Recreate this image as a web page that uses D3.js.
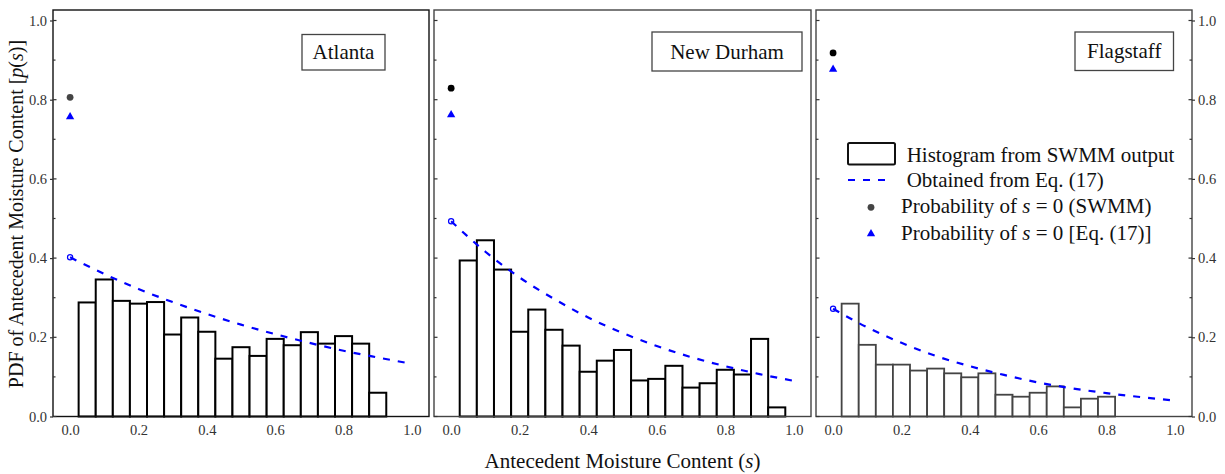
<!DOCTYPE html>
<html>
<head>
<meta charset="utf-8">
<script src="https://cdn.jsdelivr.net/npm/d3@7"></script>
<style>
  html, body { margin: 0; padding: 0; background: #fff; }
  svg { display: block; }
  svg text { font-family: "Liberation Serif", "Times New Roman", serif !important; }
</style>
</head>
<body>
<svg id="chart" width="1225" height="474"></svg>
<script>
// ---------------- data ----------------
const sites = ["Atlanta", "New Durham", "Flagstaff"];
const binCenters = [0.05, 0.10, 0.15, 0.20, 0.25, 0.30, 0.35, 0.40, 0.45, 0.50,
                    0.55, 0.60, 0.65, 0.70, 0.75, 0.80, 0.85, 0.90, 0.95];
const binWidth = 0.05;
const atlantaHist   = [0.288, 0.346, 0.292, 0.285, 0.289, 0.207, 0.250, 0.214, 0.146, 0.175,
                       0.153, 0.196, 0.180, 0.213, 0.184, 0.203, 0.184, 0.060];
const newDurhamHist = [0.394, 0.445, 0.371, 0.214, 0.270, 0.219, 0.179, 0.113, 0.141, 0.168,
                       0.091, 0.095, 0.128, 0.073, 0.084, 0.118, 0.106, 0.196, 0.023];
const flagstaffHist = [0.285, 0.181, 0.131, 0.131, 0.116, 0.121, 0.109, 0.099, 0.109, 0.055,
                       0.050, 0.060, 0.076, 0.023, 0.045, 0.050];
const curveS          = [0.0, 0.1, 0.2, 0.3, 0.4, 0.5, 0.6, 0.7, 0.8, 0.9, 1.0];
const atlantaCurve    = [0.402, 0.360, 0.322, 0.289, 0.259, 0.232, 0.208, 0.186, 0.166, 0.149, 0.133];
const newDurhamCurve  = [0.493, 0.416, 0.351, 0.297, 0.250, 0.211, 0.178, 0.150, 0.127, 0.107, 0.090];
const flagstaffCurve  = [0.272, 0.225, 0.186, 0.153, 0.127, 0.105, 0.086, 0.071, 0.059, 0.049, 0.040];
const probZeroSWMM = [0.806, 0.829, 0.918];
const probZeroEq   = [0.758, 0.763, 0.878];
const xTicks = [0.0, 0.2, 0.4, 0.6, 0.8, 1.0];
const yTicks = [0.0, 0.2, 0.4, 0.6, 0.8, 1.0];
const yMinorTicks = [0.1, 0.3, 0.5, 0.7, 0.9];
const legendLabels = [
  [["Histogram from SWMM output", false]],
  [["Obtained from Eq. (17)", false]],
  [["Probability of ", false], ["s", true], [" = 0 (SWMM)", false]],
  [["Probability of ", false], ["s", true], [" = 0 [Eq. (17)]", false]]
];
const xTitle = [["Antecedent Moisture Content (", false], ["s", true], [")", false]];
const yTitle = [["PDF of Antecedent Moisture Content [", false], ["p", true], ["(", false], ["s", true], [")]", false]];

const hists  = [atlantaHist, newDurhamHist, flagstaffHist];
const curves = [atlantaCurve, newDurhamCurve, flagstaffCurve];

// ---------------- layout ----------------
const FONT = "Liberation Serif, Times New Roman, serif";
const panelX = [[53, 429], [434, 811], [816, 1192]];
const yTop = 10, yBot = 416.5;
const barStroke = ["#000", "#000", "#444"];
const dotFill   = ["#444", "#000", "#000"];
const labelBoxes = [
  {x: 302, y: 34.5, w: 83, h: 35.5},
  {x: 652, y: 32, w: 150, h: 39},
  {x: 1075, y: 32, w: 98.5, h: 38.5}
];

const svg = d3.select("#chart").style("font-family", FONT);
const y = d3.scaleLinear().domain([0, 1.0265]).range([yBot, yTop]);

function addRich(sel, parts) {
  parts.forEach(([t, it]) => {
    const ts = sel.append("tspan").text(t);
    if (it) ts.attr("font-style", "italic");
  });
}

sites.forEach((site, i) => {
  const [x0, x1] = panelX[i];
  const x = d3.scaleLinear().domain([-0.05, 1.05]).range([x0, x1]);
  const g = svg.append("g");

  // histogram bars
  const hist = hists[i];
  g.append("g").selectAll("rect")
    .data(hist.map((v, k) => ({c: binCenters[k], v})))
    .join("rect")
    .attr("x", d => x(d.c - binWidth / 2))
    .attr("width", d => x(d.c + binWidth / 2) - x(d.c - binWidth / 2))
    .attr("y", d => y(d.v))
    .attr("height", d => y(0) - y(d.v))
    .attr("fill", "#fff")
    .attr("stroke", barStroke[i])
    .attr("stroke-width", i === 2 ? 1.8 : 2);

  // dashed curve
  const cv = curves[i];
  const line = d3.line().x(d => x(d[0])).y(d => y(d[1])).curve(d3.curveMonotoneX);
  g.append("path")
    .attr("d", line(curveS.map((s, k) => [s, cv[k]])))
    .attr("fill", "none")
    .attr("stroke", "#0000ff")
    .attr("stroke-width", 2.2)
    .attr("stroke-dasharray", "7,8");

  // open circle at curve start
  g.append("circle")
    .attr("cx", x(0)).attr("cy", y(cv[0])).attr("r", 2.6)
    .attr("fill", "none").attr("stroke", "#0000ff").attr("stroke-width", 1.2);

  // probability points
  g.append("circle")
    .attr("cx", x(0)).attr("cy", y(probZeroSWMM[i])).attr("r", 3.4)
    .attr("fill", dotFill[i]);
  g.append("path")
    .attr("d", d3.symbol().type(d3.symbolTriangle).size(30)())
    .attr("transform", `translate(${x(0)},${y(probZeroEq[i]) + 0.5})`)
    .attr("fill", "#0000ff");

  // frame
  g.append("rect")
    .attr("x", x0).attr("y", yTop).attr("width", x1 - x0).attr("height", yBot - yTop)
    .attr("fill", "none").attr("stroke", i === 0 ? "#111" : "#444").attr("stroke-width", 1.4);

  // inward ticks on left
  g.append("g").selectAll("line")
    .data(yTicks.concat(yMinorTicks))
    .join("line")
    .attr("x1", x0).attr("x2", d => x0 + (yTicks.includes(d) ? 3.5 : 2.5))
    .attr("y1", d => y(d)).attr("y2", d => y(d))
    .attr("stroke", "#333").attr("stroke-width", 1.2);
  if (i === 2) {
    g.append("g").selectAll("line")
      .data(yTicks.concat(yMinorTicks))
      .join("line")
      .attr("x1", x1).attr("x2", d => x1 - (yTicks.includes(d) ? 3.5 : 2.5))
      .attr("y1", d => y(d)).attr("y2", d => y(d))
      .attr("stroke", "#333").attr("stroke-width", 1.2);
  }

  // x axis labels
  const xa = g.append("g").attr("transform", `translate(0,${yBot})`)
    .call(d3.axisBottom(x).tickValues(xTicks).tickFormat(d3.format(".1f")).tickSize(0).tickPadding(8));
  xa.attr("font-family", FONT).style("font-family", FONT);
  xa.select(".domain").remove();
  xa.selectAll("text").attr("font-size", 14.5).attr("fill", "#333").style("font-family", FONT);

  // y axis labels
  const yAxes = [];
  if (i === 0) yAxes.push([x0, d3.axisLeft(y)]);
  if (i === 2) yAxes.push([x1, d3.axisRight(y)]);
  yAxes.forEach(([px, ax]) => {
    const ya = g.append("g").attr("transform", `translate(${px},0)`)
      .call(ax.tickValues(yTicks).tickFormat(d3.format(".1f")).tickSize(3).tickPadding(3));
    ya.attr("font-family", FONT).style("font-family", FONT);
    ya.select(".domain").remove();
    ya.selectAll("line").attr("stroke", "#333").attr("stroke-width", 1.2);
    ya.selectAll("text").attr("font-size", 14.5).attr("fill", "#333").style("font-family", FONT);
  });

  // site label box
  const b = labelBoxes[i];
  g.append("rect").attr("x", b.x).attr("y", b.y).attr("width", b.w).attr("height", b.h)
    .attr("fill", "#fff").attr("stroke", "#444").attr("stroke-width", 1.3);
  g.append("text").attr("x", b.x + b.w / 2).attr("y", b.y + b.h / 2 + 7)
    .attr("text-anchor", "middle").attr("font-size", 21).attr("fill", "#111").text(site);

  // legend in last panel
  if (i === 2) {
    const lg = g.append("g");
    const rowY = [161.7, 187.3, 213.3, 239.5];
    lg.append("rect").attr("x", 848).attr("y", 143).attr("width", 47).attr("height", 21.5)
      .attr("rx", 1.5).attr("fill", "#fff").attr("stroke", "#111").attr("stroke-width", 2);
    lg.append("line").attr("x1", 848).attr("x2", 887).attr("y1", 180).attr("y2", 180)
      .attr("stroke", "#0000ff").attr("stroke-width", 2.2).attr("stroke-dasharray", "7,8");
    lg.append("circle").attr("cx", 871).attr("cy", 207.3).attr("r", 3.4).attr("fill", "#444");
    lg.append("path").attr("d", d3.symbol().type(d3.symbolTriangle).size(30)())
      .attr("transform", "translate(871,233.8)").attr("fill", "#0000ff");
    const tx = [906.7, 906.7, 901, 901];
    legendLabels.forEach((parts, k) => {
      const t = lg.append("text").attr("x", tx[k]).attr("y", rowY[k])
        .attr("font-size", 21).attr("fill", "#111");
      addRich(t, parts);
    });
  }
});

// axis titles
const xt = svg.append("text").attr("x", 622.5).attr("y", 468)
  .attr("text-anchor", "middle").attr("font-size", 21).attr("fill", "#111");
addRich(xt, xTitle);
const yt = svg.append("text").attr("transform", "translate(23,214) rotate(-90)")
  .attr("text-anchor", "middle").attr("font-size", 20).attr("fill", "#111");
addRich(yt, yTitle);
</script>
</body>
</html>
